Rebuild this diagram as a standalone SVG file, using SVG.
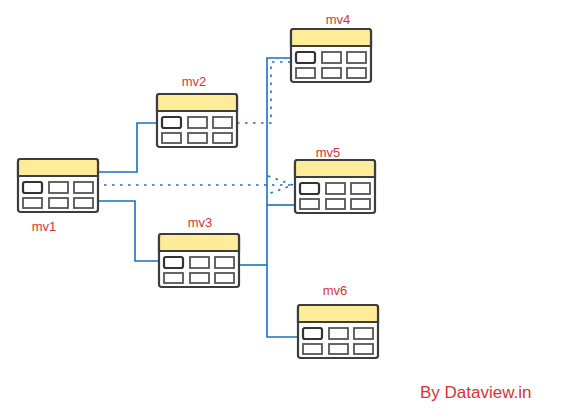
<svg xmlns="http://www.w3.org/2000/svg" xmlns:xlink="http://www.w3.org/1999/xlink" width="570" height="415" viewBox="0 0 570 415">
<style>
.box{fill:#ffffff;stroke:#3d3d3d;stroke-width:2.2}
.hdr{fill:#ffec99;stroke:#3d3d3d;stroke-width:2.2}
.cell{fill:#ffffff;stroke:#555555;stroke-width:1.8}
.cell1{fill:#ffffff;stroke:#333333;stroke-width:2.2}
.lbl{font-family:"Liberation Sans",Arial,sans-serif;font-size:13px;fill:#e03131;text-anchor:middle}
.sig{font-family:"Liberation Sans",Arial,sans-serif;font-size:17px;fill:#e03131}
.solid{fill:none;stroke:#1971c2;stroke-width:1.6}
.dot{fill:none;stroke:#1971c2;stroke-width:1.6;stroke-dasharray:2.5 5.5}
</style>
<defs>
<g id="table">
<rect class="box" x="0" y="0" width="80" height="53" rx="2.5"/>
<path class="hdr" d="M2.5 0 H77.5 Q80 0 80 2.5 V17 H0 V2.5 Q0 0 2.5 0 Z"/>
<rect class="cell1" x="5" y="23" width="19" height="11" rx="2"/>
<rect class="cell" x="31" y="23" width="19" height="11"/>
<rect class="cell" x="56" y="23" width="19" height="11"/>
<rect class="cell" x="5" y="39" width="19" height="10"/>
<rect class="cell" x="31" y="39" width="19" height="10"/>
<rect class="cell" x="56" y="39" width="19" height="10"/>
</g>
</defs>
<g id="connectors">
<path class="solid" d="M98 172 H137 V123 H157"/>
<path class="solid" d="M98 201 H135 V261 H159"/>
<path class="solid" d="M238 265 H267"/>
<path class="solid" d="M291 58 H267 V337 H298"/>
<path class="solid" d="M267 205 H295"/>
<path class="dot" d="M104 185 H292"/>
<path class="dot" d="M268 176 L293 185 L268 194"/>
<path class="dot" d="M237 123 H271 V62 H291"/>
</g>
<g id="mv1"><use xlink:href="#table" href="#table" transform="translate(18,159)"/><text class="lbl" x="44" y="231">mv1</text></g>
<g id="mv2"><use xlink:href="#table" href="#table" transform="translate(157,94)"/><text class="lbl" x="194" y="86">mv2</text></g>
<g id="mv3"><use xlink:href="#table" href="#table" transform="translate(159,234)"/><text class="lbl" x="200" y="227">mv3</text></g>
<g id="mv4"><use xlink:href="#table" href="#table" transform="translate(291,29)"/><text class="lbl" x="338" y="24">mv4</text></g>
<g id="mv5"><use xlink:href="#table" href="#table" transform="translate(295,160)"/><text class="lbl" x="328" y="157">mv5</text></g>
<g id="mv6"><use xlink:href="#table" href="#table" transform="translate(298,305)"/><text class="lbl" x="335" y="295">mv6</text></g>
<text class="sig" x="420" y="398">By Dataview.in</text>
</svg>
